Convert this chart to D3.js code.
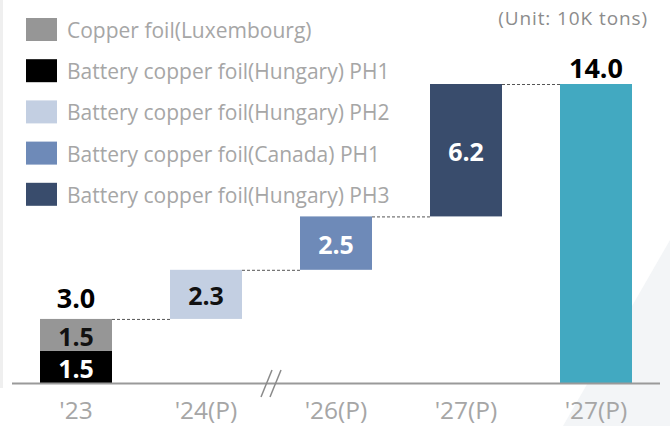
<!DOCTYPE html>
<html>
<head>
<meta charset="utf-8">
<script src="https://cdn.jsdelivr.net/npm/d3@7"></script>
<style>
  html, body { margin: 0; padding: 0; background: #fff; }
  #chart { width: 670px; height: 426px; }
</style>
</head>
<body>
<div id="chart"></div>
<script>
const categories = ["'23", "'24(P)", "'26(P)", "'27(P)", "'27(P)"];
const seriesNames = [
  "Copper foil(Luxembourg)",
  "Battery copper foil(Hungary) PH1",
  "Battery copper foil(Hungary) PH2",
  "Battery copper foil(Canada) PH1",
  "Battery copper foil(Hungary) PH3"
];
const seriesColors = ["#969696", "#000000", "#c3cfe2", "#6e8ab8", "#394c6c"];
// waterfall segments
const segCat = [0, 0, 1, 2, 3, 4];
const segBase = [0, 1.5, 3.0, 5.3, 7.8, 0];
const segValue = [1.5, 1.5, 2.3, 2.5, 6.2, 14.0];
const segColor = ["#000000", "#969696", "#c3cfe2", "#6e8ab8", "#394c6c", "#42a9c1"];
const segLabelColor = ["#ffffff", "#111111", "#111111", "#ffffff", "#ffffff", null];
const totalCat = [0, 4];
const totalValue = [3.0, 14.0];

const width = 670, height = 426;
const font = "'Open Sans', 'Noto Sans', sans-serif";

const svg = d3.select("#chart").append("svg")
  .attr("width", width).attr("height", height)
  .style("font-family", font);

// faint background decorations
svg.append("rect").attr("x", 0).attr("y", 0).attr("width", 3).attr("height", 388).attr("fill", "#efefef");
svg.append("path").attr("d", "M563,426 L670,240 L670,426 Z").attr("fill", "#f3f5f7");

const x = d3.scalePoint().domain(d3.range(categories.length)).range([76, 596]);
const barW = 72;
const y = d3.scaleLinear().domain([0, 14]).range([383, 84]);

// connectors
for (let i = 1; i < segCat.length; i++) {
  if (segCat[i] === segCat[i - 1]) continue;
  const prevTop = segBase[i - 1] + segValue[i - 1];
  svg.append("line")
    .attr("x1", x(segCat[i - 1]) + barW / 2).attr("x2", x(segCat[i]) - barW / 2)
    .attr("y1", y(prevTop) + 0.5).attr("y2", y(prevTop) + 0.5)
    .attr("stroke", "#555").attr("stroke-width", 1).attr("stroke-dasharray", "3,2");
}

// bars
segCat.forEach((c, i) => {
  const y0 = y(segBase[i]), y1 = y(segBase[i] + segValue[i]);
  svg.append("rect")
    .attr("x", x(c) - barW / 2).attr("y", y1)
    .attr("width", barW).attr("height", y0 - y1)
    .attr("fill", segColor[i]);
  if (segLabelColor[i]) {
    svg.append("text")
      .attr("x", x(c)).attr("y", (y0 + y1) / 2 + 1)
      .attr("text-anchor", "middle").attr("dominant-baseline", "central")
      .attr("font-size", "25px").attr("font-weight", "bold")
      .attr("fill", segLabelColor[i])
      .text(segValue[i].toFixed(1));
  }
});

// totals
totalCat.forEach((c, i) => {
  svg.append("text")
    .attr("x", x(c)).attr("y", y(totalValue[i]) - (i === 0 ? 11 : 6))
    .attr("text-anchor", "middle")
    .attr("font-size", "27px").attr("font-weight", "bold").attr("fill", "#000")
    .text(totalValue[i].toFixed(1));
});

// axis
svg.append("line").attr("x1", 12).attr("x2", 660).attr("y1", 383.5).attr("y2", 383.5)
  .attr("stroke", "#9a9a9a").attr("stroke-width", 2);
// axis break
[0, 9].forEach(dx => {
  svg.append("line")
    .attr("x1", 261 + dx).attr("y1", 397).attr("x2", 272 + dx).attr("y2", 370)
    .attr("stroke", "#8a8a8a").attr("stroke-width", 1.5);
});
categories.forEach((c, i) => {
  svg.append("text")
    .attr("x", x(i)).attr("y", 419)
    .attr("text-anchor", "middle")
    .attr("font-size", "24.5px").attr("fill", "#a6a6a6")
    .text(c);
});

// legend
seriesNames.forEach((n, i) => {
  const ly = 18 + i * 41.2;
  svg.append("rect").attr("x", 26).attr("y", ly).attr("width", 31).attr("height", 23)
    .attr("fill", seriesColors[i]);
  svg.append("text").attr("x", 67).attr("y", ly + 12)
    .attr("dominant-baseline", "central")
    .attr("font-size", "21px").attr("fill", "#a6a6a6")
    .text(n);
});

svg.append("text").attr("x", 648).attr("y", 25)
  .attr("text-anchor", "end").attr("font-size", "19px").attr("fill", "#8c8c8c")
  .attr("letter-spacing", "0.9px")
  .text("(Unit: 10K tons)");
</script>
</body>
</html>
